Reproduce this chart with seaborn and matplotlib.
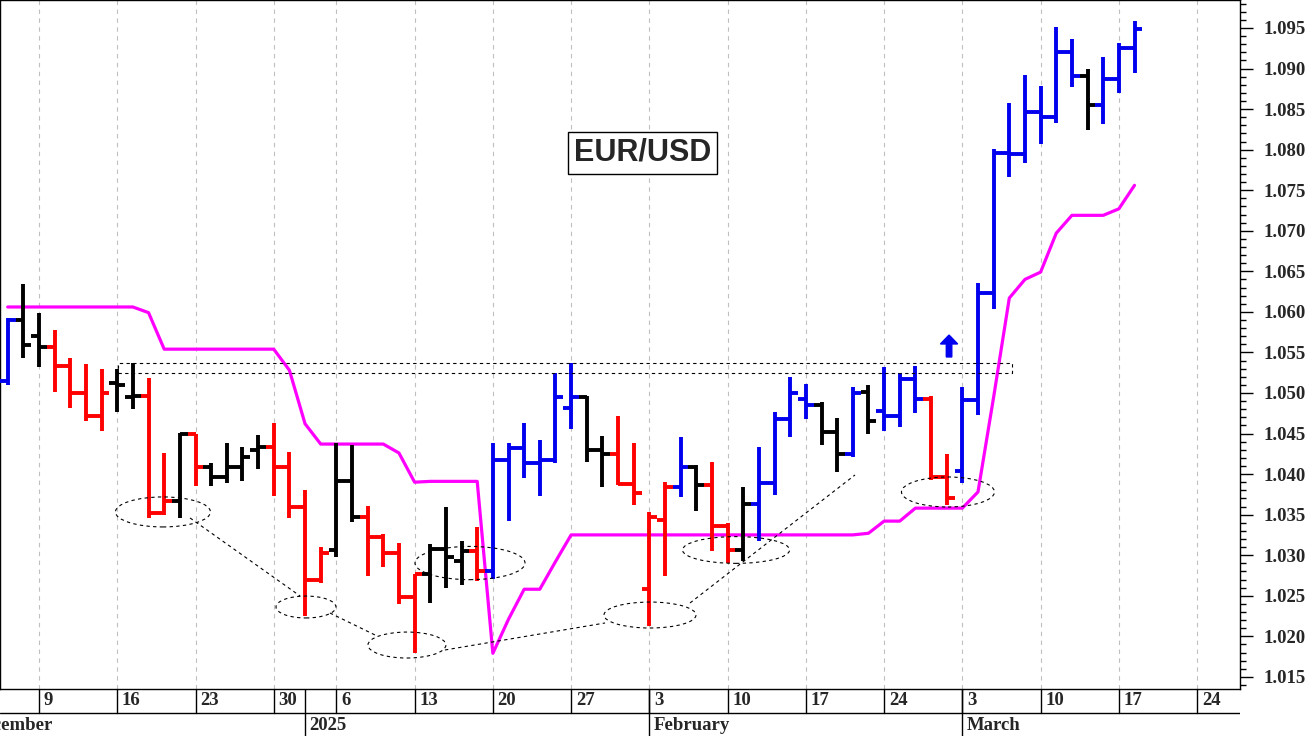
import numpy as np
import pandas as pd
import matplotlib
matplotlib.use("Agg")
import matplotlib.pyplot as plt
import seaborn as sns
from matplotlib.patches import Ellipse, Rectangle, FancyArrow
from matplotlib.ticker import MultipleLocator, FormatStrFormatter

dates = ["Dec 5","Dec 6","Dec 9","Dec 10","Dec 11","Dec 12","Dec 13","Dec 16","Dec 17","Dec 18","Dec 19","Dec 20",
         "Dec 23","Dec 24","Dec 25","Dec 26","Dec 27","Dec 30","Dec 31",
         "Jan 2","Jan 3","Jan 6","Jan 7","Jan 8","Jan 9","Jan 10","Jan 13","Jan 14","Jan 15","Jan 16","Jan 17",
         "Jan 20","Jan 21","Jan 22","Jan 23","Jan 24","Jan 27","Jan 28","Jan 29","Jan 30","Jan 31",
         "Feb 3","Feb 4","Feb 5","Feb 6","Feb 7","Feb 10","Feb 11","Feb 12","Feb 13","Feb 14",
         "Feb 17","Feb 18","Feb 19","Feb 20","Feb 21","Feb 24","Feb 25","Feb 26","Feb 27","Feb 28",
         "Mar 3","Mar 4","Mar 5","Mar 6","Mar 7","Mar 10","Mar 11","Mar 12","Mar 13","Mar 14","Mar 17","Mar 18"]
opens = [1.0515,1.0590,1.0570,1.0557,1.0533,1.0500,1.0472,1.0512,1.0495,1.0496,1.0352,1.0367,
         1.0450,1.0409,1.0396,1.0409,1.0430,1.0433,1.0409,
         1.0360,1.0269,1.0306,1.0391,1.0347,1.0323,1.0303,1.0248,1.0277,1.0307,1.0293,1.0305,
         1.0280,1.0417,1.0432,1.0414,1.0417,1.0481,1.0495,1.0430,1.0425,1.0388,
         1.0258,1.0343,1.0384,1.0409,1.0387,1.0336,1.0306,1.0363,1.0389,1.0468,
         1.0493,1.0485,1.0452,1.0425,1.0501,1.0478,1.0472,1.0517,1.0492,1.0396,
         1.0404,1.0491,1.0623,1.0796,1.0795,1.0846,1.0840,1.0920,1.0891,1.0855,1.0887,1.0925]
highs = [1.0592,1.0634,1.0599,1.0578,1.0543,1.0536,1.0530,1.0530,1.0537,1.0518,1.0426,1.0451,
         1.0450,1.0414,1.0438,1.0433,1.0448,1.0463,1.0427,
         1.0380,1.0310,1.0438,1.0436,1.0361,1.0326,1.0315,1.0277,1.0314,1.0359,1.0318,1.0335,
         1.0438,1.0438,1.0463,1.0442,1.0525,1.0537,1.0496,1.0447,1.0471,1.0438,
         1.0353,1.0390,1.0446,1.0411,1.0415,1.0340,1.0384,1.0433,1.0476,1.0520,
         1.0511,1.0489,1.0469,1.0507,1.0510,1.0532,1.0525,1.0533,1.0496,1.0425,
         1.0507,1.0636,1.0801,1.0857,1.0892,1.0878,1.0951,1.0936,1.0900,1.0914,1.0932,1.0959]
lows = [1.0510,1.0543,1.0532,1.0501,1.0481,1.0465,1.0453,1.0477,1.0480,1.0346,1.0350,1.0346,
        1.0385,1.0385,1.0389,1.0391,1.0406,1.0373,1.0346,
        1.0225,1.0266,1.0298,1.0341,1.0274,1.0285,1.0240,1.0179,1.0241,1.0260,1.0263,1.0268,
        1.0271,1.0342,1.0395,1.0373,1.0414,1.0456,1.0415,1.0384,1.0387,1.0362,
        1.0213,1.0274,1.0372,1.0355,1.0305,1.0290,1.0293,1.0318,1.0374,1.0446,
        1.0468,1.0436,1.0402,1.0421,1.0450,1.0453,1.0458,1.0475,1.0393,1.0362,
        1.0389,1.0473,1.0604,1.0766,1.0783,1.0807,1.0833,1.0877,1.0824,1.0832,1.0870,1.0895]
closes = [1.0590,1.0559,1.0557,1.0533,1.0500,1.0472,1.0500,1.0510,1.0496,1.0352,1.0367,1.0450,
          1.0409,1.0396,1.0409,1.0421,1.0433,1.0409,1.0360,
          1.0269,1.0303,1.0391,1.0347,1.0323,1.0303,1.0248,1.0277,1.0307,1.0298,1.0305,1.0280,
          1.0417,1.0432,1.0414,1.0417,1.0495,1.0495,1.0430,1.0425,1.0388,1.0377,
          1.0347,1.0384,1.0409,1.0387,1.0336,1.0306,1.0363,1.0389,1.0468,1.0500,
          1.0485,1.0452,1.0425,1.0500,1.0465,1.0472,1.0517,1.0492,1.0396,1.0370,
          1.0491,1.0623,1.0796,1.0795,1.0846,1.0840,1.0920,1.0891,1.0855,1.0887,1.0925,1.0949]
signal = list("bkkrrrrkkrrkrkkkkrr" + "rrkkrrrrkkkrbbbbbbkkrr" + "rrbkrrkbbbbkkbkbbbrr" + "bbbbbbbbkbbb")
stop_line = ([1.0606]*9 + [1.0599] + [1.0554]*8 + [1.0528] +
             [1.0462, 1.0437] + [1.0437]*4 + [1.0426, 1.0390] + [1.0391]*4 +
             [1.0179, 1.0221, 1.0258, 1.0258, 1.0292] + [1.0325]*5 +
             [1.0325]*14 + [1.0327, 1.0342, 1.0342, 1.0358, 1.0358, 1.0358] +
             [1.0358, 1.0378, 1.0495, 1.0617, 1.0640, 1.0649, 1.0697, 1.0719, 1.0719, 1.0719, 1.0727, 1.0756])

week_labels = ["9","16","23","30","6","13","20","27","3","10","17","24","3","10","17","24"]
week_idx = [0,5,10,15,19,24,29,34,39,44,49,54,59,64,69,74]
month_labels = ["December","2025","February","March"]
month_idx = [-4.6,17,39,59]

# annotation geometry (bar-index, price)
ellipses = [(7.92,1.03533,6.07,0.0037),(17.06,1.02361,3.83,0.0027),(23.51,1.01892,4.98,0.0032),
            (27.54,1.02903,7.03,0.0041),(39.04,1.02262,5.88,0.0032),(44.54,1.03064,6.84,0.0033),
            (58.08,1.03779,5.94,0.0037)]
trend_lines = [((9.65,16.68),(1.03459,1.02497)),((18.59,21.47),(1.02287,1.02016)),
               ((25.94,36.17),(1.01831,1.02164)),((41.6,52.14),(1.02411,1.03989))]

sns.set_theme(style="white")
plt.rcParams['font.family'] = ['Liberation Serif', 'DejaVu Serif']

colmap = {"r": "#ff0000", "k": "#000000", "b": "#0000ee"}
df = pd.DataFrame({"date": dates, "open": opens, "high": highs, "low": lows, "close": closes,
                   "sig": signal, "stop": stop_line})
df["x"] = np.arange(len(df)) - 2
df["color"] = df["sig"].map(colmap)

W, H = 1311, 736
fig = plt.figure(figsize=(W/100, H/100), dpi=100)
ax = fig.add_axes([0, 1-689/H, 1240/W, 689/H])
xl = (-39/15.65, (1240-39)/15.65)
ax.set_xlim(*xl)
ax.set_ylim(1.0135, 1.09845)

for xi in week_idx:
    ax.axvline(xi, color="#c0c0c0", ls=(0, (4, 4)), lw=0.8, zorder=0)

tl = 0.5
ax.vlines(df["x"], df["low"], df["high"], colors=df["color"], lw=2.8, zorder=3)
ax.hlines(df["open"], df["x"]-tl, df["x"], colors=df["color"], lw=2.8, zorder=3)
ax.hlines(df["close"], df["x"], df["x"]+tl, colors=df["color"], lw=2.8, zorder=3)

sns.lineplot(data=df, x="x", y="stop", ax=ax, color="#ff00ff", lw=2.3, zorder=2, legend=False)

for cx, cy, w, h in ellipses:
    ax.add_patch(Ellipse((cx, cy), w, h, fill=False, ec="black", ls=(0, (3, 3)), lw=0.8, zorder=4))
for xs, ys in trend_lines:
    ax.plot(xs, ys, color="black", ls=(0, (3, 3)), lw=0.8, zorder=4)
ax.add_patch(Rectangle((5.05, 1.05246), 62.17-5.05, 1.05369-1.05246, fill=False, ec="black",
                       ls=(0, (3, 3)), lw=0.8, zorder=4))
ax.add_patch(FancyArrow(58.15, 1.05444, 0, 0.0027, width=0.35, head_width=1.1, head_length=0.0011,
                        length_includes_head=True, color="#0000ee", zorder=5))

ax.text(0.518, 0.778, "EUR/USD", transform=ax.transAxes, ha="center", va="center",
        fontsize=22, fontweight="bold", family=["Liberation Sans", "DejaVu Sans"],
        bbox=dict(boxstyle="square,pad=0.2", fc="white", ec="black", lw=1))

ax.yaxis.tick_right()
ax.yaxis.set_major_locator(MultipleLocator(0.005))
ax.yaxis.set_minor_locator(MultipleLocator(0.001))
ax.yaxis.set_major_formatter(FormatStrFormatter("%.3f"))
ax.tick_params(axis="y", which="major", direction="out", length=9, width=1, color="black",
               labelsize=13.5, pad=8, right=True, left=False)
ax.tick_params(axis="y", which="minor", direction="out", length=4, width=1, color="black",
               right=True, left=False)
for lab in ax.get_yticklabels():
    lab.set_fontweight("bold")
ax.set_xticks([])
ax.set_xlabel(""); ax.set_ylabel("")
for s in ax.spines.values():
    s.set_color("black"); s.set_linewidth(1)

bx = fig.add_axes([0, 0, 1240/W, 47/H])
bx.set_xlim(*xl); bx.set_ylim(0, 2)
bx.axis("off")
bx.axhline(1, color="black", lw=1)
for xi, lab in zip(week_idx, week_labels):
    bx.plot([xi, xi], [1, 2], color="black", lw=1)
    bx.text(xi+0.3, 1.5, lab, ha="left", va="center", fontsize=13.5, fontweight="bold", clip_on=True)
for xi, lab in zip(month_idx, month_labels):
    if xi > xl[0]:
        bx.plot([xi, xi], [0, 2], color="black", lw=1)
    bx.text(xi+0.3, 0.45, lab, ha="left", va="center", fontsize=13.5, fontweight="bold", clip_on=True)

fig.savefig("out.png", dpi=100)
